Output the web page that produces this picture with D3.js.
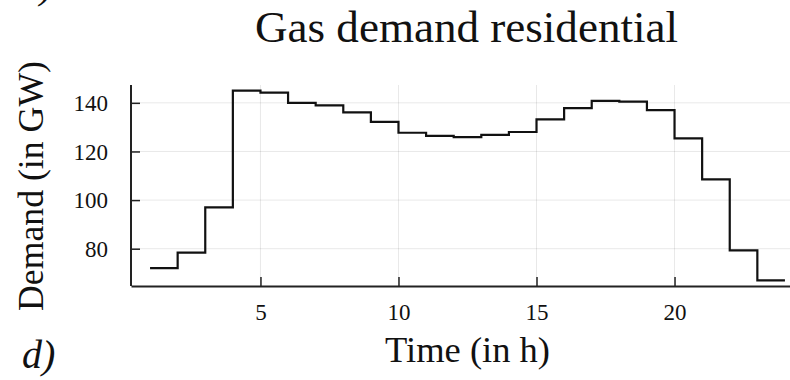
<!DOCTYPE html>
<html>
<head>
<meta charset="utf-8">
<script src="https://cdn.jsdelivr.net/npm/d3@7"></script>
<style>
  html, body { margin: 0; padding: 0; background: #fff; }
  svg { display: block; }
  text { font-family: "Liberation Serif", "DejaVu Serif", serif; fill: #111; }
</style>
</head>
<body>
<svg id="chart" width="790" height="380"></svg>
<script>
// Hourly residential gas demand (GW), one value per hour 1..24
const hours = d3.range(1, 25);
const demand = [72, 78.4, 97, 145, 144.2, 140, 139, 136.1, 132.2, 127.7, 126.4, 125.9,
                126.8, 128, 133.2, 137.8, 140.8, 140.5, 137, 125.4, 108.5, 79.3, 67, 67];
const xTicks = [5, 10, 15, 20];
const yTicks = [80, 100, 120, 140];
const titleText = "Gas demand residential";
const xLabel = "Time (in h)";
const yLabel = "Demand (in GW)";

const svg = d3.select("#chart");
const plotLeft = 131, plotBottom = 286, plotTop = 85, plotRight = 804;

// axis limits widened by 3% of the data span on each side
const pad = (lo, hi) => { const s = (hi - lo) * 0.03; return [lo - s, hi + s]; };
const x = d3.scaleLinear().domain(pad(d3.min(hours), d3.max(hours))).range([plotLeft, plotRight]);
const y = d3.scaleLinear().domain(pad(d3.min(demand), d3.max(demand))).range([plotBottom, plotTop]);

// grid
const grid = svg.append("g").attr("stroke", "#000").attr("stroke-opacity", 0.09).attr("stroke-width", 1);
grid.selectAll(".gx").data(xTicks).join("line")
  .attr("x1", d => x(d)).attr("x2", d => x(d)).attr("y1", plotTop).attr("y2", plotBottom);
grid.selectAll(".gy").data(yTicks).join("line")
  .attr("x1", plotLeft).attr("x2", plotRight).attr("y1", d => y(d)).attr("y2", d => y(d));

// axes (ticks pointing into the plot)
const xAxis = svg.append("g").attr("transform", `translate(0,${plotBottom})`)
  .call(d3.axisBottom(x).tickValues(xTicks).tickSizeInner(-9).tickSizeOuter(0));
const yAxis = svg.append("g").attr("transform", `translate(${plotLeft},0)`)
  .call(d3.axisLeft(y).tickValues(yTicks).tickSizeInner(-9).tickSizeOuter(0));
[xAxis, yAxis].forEach(a => {
  a.select(".domain").attr("stroke", "#222").attr("stroke-width", 2);
  a.selectAll(".tick line").attr("stroke", "#222").attr("stroke-width", 1.5);
  a.selectAll(".tick text").attr("font-family", "Liberation Serif, serif").attr("font-size", 23).attr("fill", "#333");
});
yAxis.select(".domain").attr("d", `M0,${plotTop}V${plotBottom}`);
xAxis.selectAll(".tick text").attr("dy", null).attr("y", 34);
yAxis.selectAll(".tick text").attr("dy", "0.34em").attr("x", -23);

// step line
const line = d3.line().x((d, i) => x(hours[i])).y(d => y(d)).curve(d3.curveStepAfter);
svg.append("path").datum(demand)
  .attr("fill", "none").attr("stroke", "#111").attr("stroke-width", 2.2)
  .attr("d", line);

// labels
svg.append("text").attr("x", 466.5).attr("y", 42).attr("text-anchor", "middle")
  .attr("font-size", 44).attr("textLength", 423).attr("lengthAdjust", "spacingAndGlyphs")
  .text(titleText);
svg.append("text").attr("x", 467.5).attr("y", 362).attr("text-anchor", "middle")
  .attr("font-size", 35).attr("textLength", 165).attr("lengthAdjust", "spacingAndGlyphs")
  .text(xLabel);
svg.append("text").attr("transform", "translate(43,186) rotate(-90)").attr("text-anchor", "middle")
  .attr("font-size", 35).attr("textLength", 250).attr("lengthAdjust", "spacingAndGlyphs")
  .text(yLabel);
svg.append("text").attr("x", 22).attr("y", 368).attr("font-size", 40).attr("font-style", "italic").text("d)");
// panel letter of the panel above, cut by the top edge
svg.append("text").attr("x", 22).attr("y", -2).attr("font-size", 40).attr("font-style", "italic").text("c)");
</script>
</body>
</html>
